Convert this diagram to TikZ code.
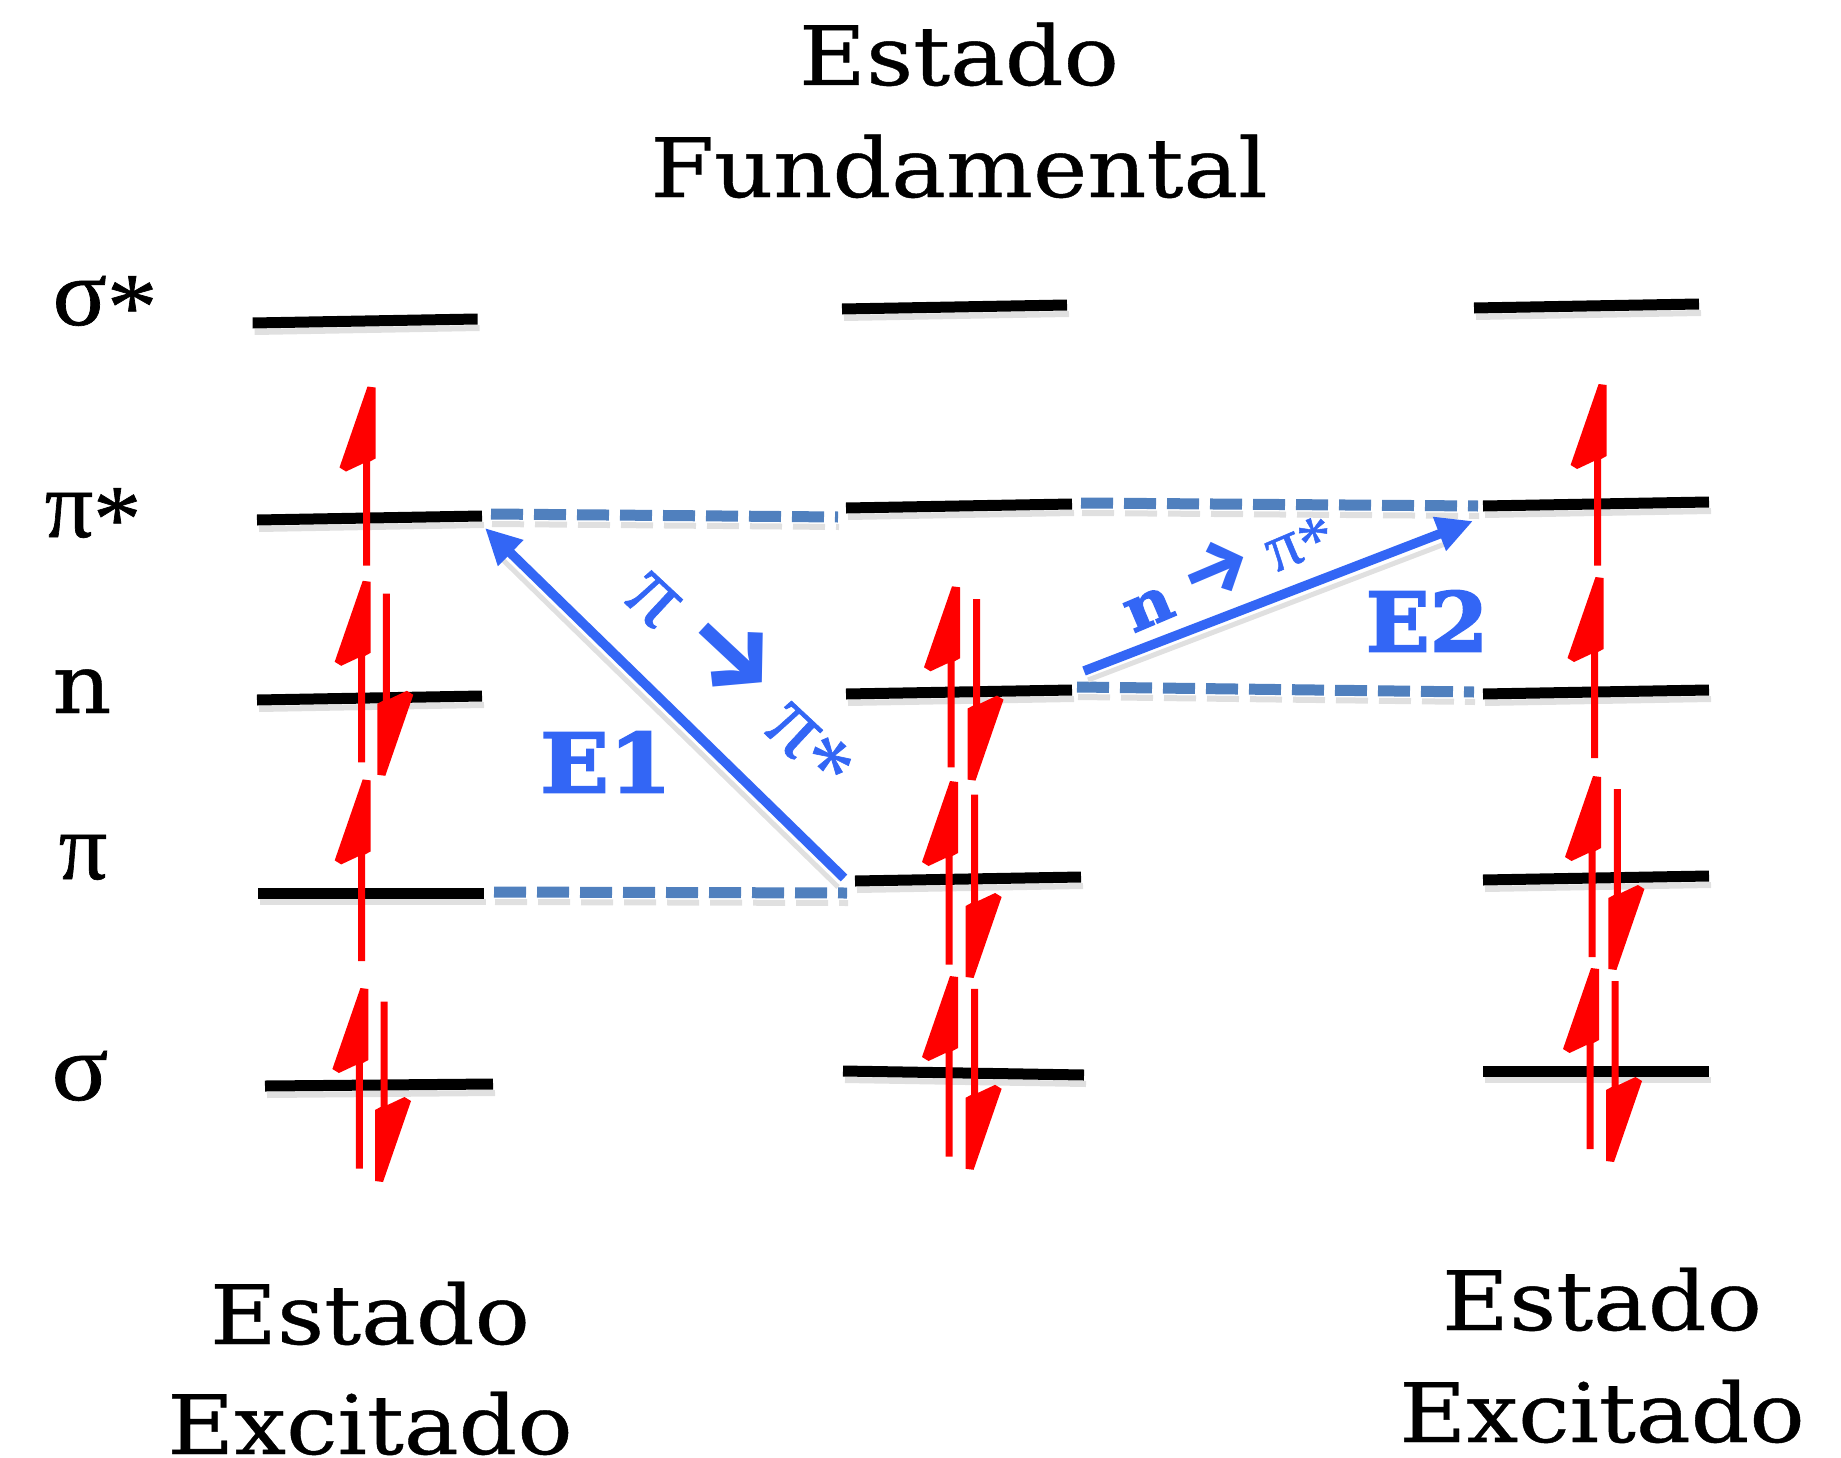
\documentclass[tikz,border=0pt]{standalone}
\usepackage{fontspec}
\usetikzlibrary{arrows.meta}
\setmainfont[FakeStretch=1.12,FakeBold=0.5]{DejaVu Serif}
\newfontfamily\gk[FakeBold=0.7]{Liberation Serif}
\newfontfamily\heavy[FakeStretch=1.1,FakeBold=2.5]{DejaVu Serif Bold}
\newfontfamily\arw{Fira Sans Bold}
\definecolor{bluearrow}{HTML}{3366F5}
\definecolor{bluedash}{HTML}{5080BE}
\definecolor{softgray}{gray}{0.88}
\tikzset{
  levelline/.style={line width=11pt,black},
  levelsoft/.style={line width=6pt,softgray},
  dashline/.style={line width=11pt,bluedash,dash pattern=on 32pt off 11pt},
  dashsoft/.style={line width=6pt,softgray,dash pattern=on 32pt off 11pt},
  transition/.style={line width=9.5pt,bluearrow,-{Triangle[length=36pt,width=34pt]}},
  transsoft/.style={line width=5pt,softgray},
  redfill/.style={fill=red},
  bigtext/.style={anchor=base,inner sep=0pt,font=\fontsize{82}{90}\selectfont},
  sidetext/.style={anchor=base,inner sep=0pt,font=\gk\fontsize{96}{100}\selectfont},
  bluetext/.style={anchor=center,inner sep=0pt,text=bluearrow},
}
\newcommand{\lvl}[4]{% x1 y1 x2 y2
  \draw[levelsoft] ({#1+2},{#2+9}) -- ({#3+2},{#4+9});
  \draw[levelline] (#1,#2) -- (#3,#4);}
\newcommand{\dashlvl}[4]{%
  \draw[dashsoft] ({#1+1},{#2+10}) -- ({#3+1},{#4+10});
  \draw[dashline] (#1,#2) -- (#3,#4);}
\newcommand{\rup}[3]{% x top bottom
  \fill[redfill] ({#1+1},#2) -- ({#1+9},{#2+1}) -- ({#1+9},{#2+72}) -- ({#1+3.5},{#2+75})
   -- ({#1+3.5},#3) -- ({#1-3.5},#3) -- ({#1-3.5},{#2+77}) -- ({#1-20.5},{#2+85}) -- ({#1-27},{#2+81}) -- cycle;}
\newcommand{\rdown}[3]{% x top tip
  \fill[redfill] ({#1-1},#3) -- ({#1-9},{#3-1}) -- ({#1-9},{#3-72}) -- ({#1-3.5},{#3-75})
   -- ({#1-3.5},#2) -- ({#1+3.5},#2) -- ({#1+3.5},{#3-77}) -- ({#1+20.5},{#3-85}) -- ({#1+27},{#3-81}) -- cycle;}
\newcommand{\lowstar}{\raisebox{-14pt}{*}}
\begin{document}
\begin{tikzpicture}[x=1pt,y=-1pt]
\useasboundingbox (0,0) rectangle (1841,1458);
% levels, left column
\lvl{252.6}{323}{477.6}{319}
\lvl{257}{520}{482}{516}
\lvl{257}{700}{482}{696}
\lvl{258}{893}{484}{893}
\lvl{265}{1086}{493}{1084}
% levels, middle column
\lvl{842}{309}{1067}{305}
\lvl{846}{508}{1072}{504}
\lvl{846}{694}{1072}{690}
\lvl{855}{881}{1081}{877}
\lvl{843}{1071}{1084}{1075}
% levels, right column
\lvl{1474}{308}{1699}{304}
\lvl{1483}{506}{1709}{502}
\lvl{1483}{694}{1709}{690}
\lvl{1483}{880}{1709}{876}
\lvl{1483}{1071}{1709}{1071}
% dashed links
\dashlvl{491}{514}{838}{517}
\dashlvl{494}{892}{847}{893}
\dashlvl{1081}{503}{1478}{506}
\dashlvl{1077}{687}{1474}{692}
% blue transitions
\coordinate (e1from) at (844,878);
\coordinate (e1to) at (485,528);
\coordinate (e2from) at (1084,671);
\coordinate (e2to) at (1473,521);
\draw[transsoft] (838,887) -- (500,557);
\draw[transsoft] (1088,680) -- (1450,542);
\draw[transition] (e1from) -- (e1to);
\draw[transition] (e2from) -- (e2to);
% red spin arrows, left
\rup{366.5}{386.5}{565.7}
\rup{361.7}{580.8}{762.4}
\rdown{386.3}{593.6}{775.8}
\rup{361.7}{779.4}{961}
\rup{359.4}{988}{1168.6}
\rdown{384}{1001.5}{1182}
% red spin arrows, middle
\rup{951}{586.3}{767.3}
\rdown{976.5}{599}{780.6}
\rup{949}{781}{964.6}
\rdown{974.6}{794.5}{978}
\rup{949}{976}{1156.5}
\rdown{974.6}{988.8}{1169.8}
% red spin arrows, right
\rup{1597.6}{384}{565.7}
\rup{1594.5}{577}{758}
\rup{1592}{776}{957}
\rdown{1617.4}{789}{970}
\rup{1590}{968}{1149}
\rdown{1615}{981}{1162}
% titles
\node[bigtext] (t1) at (959,85) {Estado};
\node[bigtext] (t2) at (959,197) {Fundamental};
\node[bigtext] (l1) at (370,1344) {Estado};
\node[bigtext] (l2) at (370,1454) {Excitado};
\node[bigtext] (r1) at (1602,1330) {Estado};
\node[bigtext] (r2) at (1602,1442) {Excitado};
% side labels
\node[sidetext,xscale=1.05] (ss) at (105,325) {σ\lowstar};
\node[sidetext] (ps) at (93,537) {π\lowstar};
\node[bigtext]  (nn) at (82,713) {n};
\node[sidetext] (pp) at (83,879) {π};
\node[sidetext,xscale=1.1] (so) at (80,1100) {σ};
% blue labels
\node[bluetext,font=\heavy\fontsize{82}{90}\selectfont] (e1) at (606,762) {E1};
\node[bluetext,xscale=0.93,font=\heavy\fontsize{82}{90}\selectfont] (e2) at (1427,621) {E2};
\node[bluetext,rotate=-43,font=\gk\fontsize{92}{96}\selectfont] (a1) at (745,675) {π {\arw\fontsize{110}{110}\selectfont →} π\lowstar};
\node[bluetext,rotate=23,font=\gk\fontsize{68}{72}\selectfont] (a2) at (1227,569) {{\heavy\fontsize{60}{60}\selectfont n} {\arw\fontsize{80}{80}\selectfont →} π\raisebox{-8pt}{*}};
\end{tikzpicture}
\end{document}
